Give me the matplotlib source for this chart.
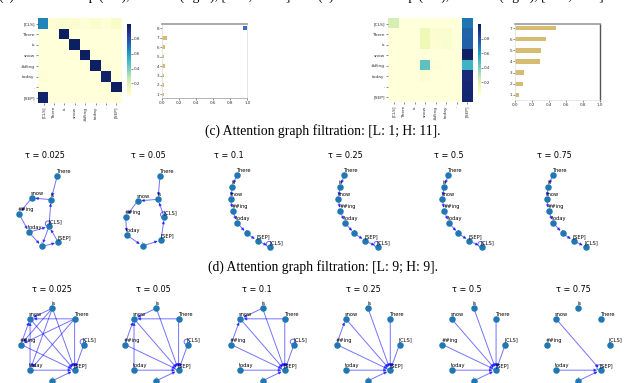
import numpy as np
import matplotlib
matplotlib.use("Agg")
import matplotlib.pyplot as plt
import matplotlib.transforms as mtransforms

# ---------------- data ----------------
tokens = ['[CLS]', 'There', 'is', 'snow', '##ing', 'today', '.', '[SEP]']

# attention map, layer 1 head 11 (rows: query, cols: key)
attn_L1_H11 = np.array([
    [0.66, 0.04, 0.06, 0.05, 0.03, 0.06, 0.03, 0.07],
    [0.01, 0.01, 0.98, 0.00, 0.00, 0.00, 0.00, 0.00],
    [0.01, 0.00, 0.01, 0.98, 0.00, 0.00, 0.00, 0.00],
    [0.01, 0.00, 0.00, 0.01, 0.98, 0.00, 0.00, 0.00],
    [0.01, 0.00, 0.00, 0.00, 0.01, 0.98, 0.00, 0.00],
    [0.03, 0.00, 0.00, 0.00, 0.00, 0.01, 0.96, 0.00],
    [0.01, 0.00, 0.00, 0.00, 0.00, 0.00, 0.01, 0.98],
    [0.96, 0.00, 0.00, 0.00, 0.00, 0.00, 0.00, 0.02],
])
# attention map, layer 9 head 9
attn_L9_H9 = np.array([
    [0.22, 0.01, 0.01, 0.02, 0.01, 0.01, 0.01, 0.70],
    [0.01, 0.01, 0.01, 0.13, 0.05, 0.06, 0.01, 0.74],
    [0.01, 0.01, 0.01, 0.13, 0.04, 0.06, 0.01, 0.75],
    [0.00, 0.00, 0.00, 0.02, 0.01, 0.01, 0.00, 0.97],
    [0.00, 0.00, 0.00, 0.45, 0.03, 0.01, 0.00, 0.52],
    [0.01, 0.00, 0.00, 0.05, 0.01, 0.01, 0.00, 0.93],
    [0.01, 0.00, 0.00, 0.01, 0.02, 0.02, 0.00, 0.94],
    [0.01, 0.00, 0.00, 0.01, 0.01, 0.01, 0.00, 0.95],
])
cbar_ticks = [0.2, 0.4, 0.6, 0.8]

# persistence barcodes
bar1_rank = [1, 2, 3, 4, 5, 6, 7, 8]
bar1_birth = [0, 0, 0, 0, 0, 0, 0, 0.95]
bar1_death = [0.02, 0.02, 0.02, 0.03, 0.02, 0.03, 0.06, 1.0]
bar1_dim = [0, 0, 0, 0, 0, 0, 0, 1]
bar2_rank = [1, 2, 3, 4, 5, 6, 7]
bar2_birth = [0, 0, 0, 0, 0, 0, 0]
bar2_death = [0.05, 0.098, 0.105, 0.29, 0.30, 0.36, 0.48]
bar_xticks = [0.0, 0.2, 0.4, 0.6, 0.8, 1.0]

taus = [0.025, 0.05, 0.1, 0.25, 0.5, 0.75]

# node layouts for L1 H11 graphs (spring-like layouts, token order)
layoutB_x = [0.288, 0.518, 0.343, -0.193, -0.546, -0.268, 0.085, 0.546]
layoutB_y = [-0.426, 0.982, 0.315, 0.363, -0.074, -0.593, -0.982, -0.871]
layoutC_x = [0.536, 0.417, 0.361, -0.203, -0.536, -0.508, -0.064, 0.444]
layoutC_y = [-0.175, 0.972, 0.325, 0.278, -0.158, -0.667, -0.972, -0.806]
layoutA_x = [0.546, -0.379, -0.501, -0.546, -0.490, -0.363, -0.101, 0.204]
layoutA_y = [-0.996, 0.996, 0.671, 0.329, -0.004, -0.329, -0.624, -0.829]
row1_layouts = [(layoutB_x, layoutB_y), (layoutC_x, layoutC_y)] + [(layoutA_x, layoutA_y)] * 4

chain = [('There', 'is'), ('is', 'snow'), ('snow', '##ing'), ('##ing', 'today'),
         ('today', '.'), ('.', '[SEP]'), ('[SEP]', '[CLS]')]
row1_edges = [
    chain + [('[CLS]', 'is'), ('[CLS]', '.'), ('today', '[CLS]'), ('[CLS]', '[CLS]')],
    chain + [('[CLS]', 'is'), ('[CLS]', '[CLS]')],
    chain + [('[CLS]', '[CLS]')],
    chain + [('[CLS]', '[CLS]')],
    chain + [('[CLS]', '[CLS]')],
    chain,
]
to_sep = [('is', '[SEP]'), ('There', '[SEP]'), ('snow', '[SEP]'), ('##ing', '[SEP]'),
          ('today', '[SEP]'), ('.', '[SEP]'), ('[CLS]', '[SEP]'), ('[SEP]', '[SEP]')]
row2_edges = [
    to_sep + [('is', 'snow'), ('is', '##ing'), ('is', 'today'), ('There', 'snow'),
              ('There', '##ing'), ('There', 'today'), ('##ing', 'snow'), ('today', 'snow'),
              ('[CLS]', '[CLS]')],
    to_sep + [('is', 'snow'), ('There', 'snow'), ('##ing', 'snow'), ('today', 'snow'),
              ('[CLS]', '[CLS]')],
    to_sep + [('is', 'snow'), ('There', 'snow'), ('##ing', 'snow'), ('[CLS]', '[CLS]')],
    to_sep + [('##ing', 'snow')],
    to_sep,
    [('snow', '[SEP]'), ('today', '[SEP]'), ('.', '[SEP]'), ('[SEP]', '[SEP]')],
]

# ---------------- figure ----------------
W_PX, H_PX = 640, 383
fig = plt.figure(figsize=(6.4, 3.83), dpi=100)
SERIF = ['Liberation Serif', 'DejaVu Serif']
CAP_FS = 9.8


def px_axes(x0, y0, x1, y1):
    return fig.add_axes([x0 / W_PX, 1 - y1 / H_PX, (x1 - x0) / W_PX, (y1 - y0) / H_PX])


# top captions (their upper part lies above the cropped figure, as in the reference)
fig.text(146 / W_PX, 1 + 0.4 / H_PX, '(a) Attention map (left), barcode (right), [L: 1; H: 11].',
         ha='center', va='baseline', fontsize=CAP_FS, family=SERIF)
fig.text(462 / W_PX, 1 + 0.4 / H_PX, '(b) Attention map (left), barcode (right), [L: 9; H: 9].',
         ha='center', va='baseline', fontsize=CAP_FS, family=SERIF)


def heatmap(box, cbox, mat):
    ax = px_axes(*box)
    im = ax.imshow(mat, cmap='YlGnBu', vmin=0.02, vmax=1.0, aspect='auto', interpolation='nearest')
    ax.set_xticks(range(len(tokens)))
    ax.set_yticks(range(len(tokens)))
    ax.set_xticklabels(tokens, rotation=90, fontsize=3.2)
    ax.set_yticklabels(tokens, fontsize=3.2)
    ax.tick_params(length=1.5, width=0.4, pad=1, colors='#333333')
    for s in ax.spines.values():
        s.set_visible(False)
    cax = px_axes(*cbox)
    cb = fig.colorbar(im, cax=cax, ticks=cbar_ticks)
    cb.outline.set_visible(False)
    cax.tick_params(labelsize=3, length=1.2, width=0.4, pad=1, colors='#333333')
    return ax


def barcode(box, rank, birth, death, dims, ylim):
    ax = px_axes(*box)
    colors = ['#d6bc72' if d == 0 else '#3f6cc2' for d in dims]
    ax.barh(rank, np.array(death) - np.array(birth), left=birth, height=0.4, color=colors)
    ax.set_xlim(0, 1.0)
    ax.set_ylim(*ylim)
    ax.set_yticks(rank)
    ax.set_xticks(bar_xticks)
    ax.tick_params(labelsize=3, length=1.2, width=0.4, pad=1, colors='#333333')
    for s in ['left', 'bottom']:
        ax.spines[s].set_color('#dddddd')
        ax.spines[s].set_linewidth(0.5)
    ax.spines['top'].set_color('#999999')
    ax.spines['top'].set_linewidth(1.2)
    ax.spines['right'].set_color('#dddddd')
    ax.spines['right'].set_linewidth(0.5)
    return ax


heatmap((38.3, 18.3, 121.7, 103.3), (127.3, 24, 130.7, 96.7), attn_L1_H11)
b1 = barcode((162.3, 24.3, 247.3, 97.7), bar1_rank, bar1_birth, bar1_death, bar1_dim, (0.65, 8.42))
b1.spines['bottom'].set_color('#999999')
heatmap((388.3, 18.3, 472.7, 102.3), (477.7, 24.3, 481, 95), attn_L9_H9)
b2 = barcode((515, 24, 600, 100), bar2_rank, bar2_birth, bar2_death, [0] * 7, (0.55, 7.36))
b2.spines['right'].set_color('#555555')
b2.spines['right'].set_linewidth(1.0)

# captions
fig.text(322.5 / W_PX, 1 - 131 / H_PX, '(c) Attention graph filtration: [L: 1; H: 11].',
         ha='center', va='center', fontsize=CAP_FS, family=SERIF)
fig.text(322.5 / W_PX, 1 - 266.7 / H_PX, '(d) Attention graph filtration: [L: 9; H: 9].',
         ha='center', va='center', fontsize=CAP_FS, family=SERIF)

NODE = '#1f77b4'
EDGE = '#0000ff'


def graph_panel(cx, cy, sx, sy, xl, yl, title_x, title_y, xs, ys, edges, tau):
    ax = px_axes(cx - xl * sx, cy - yl * sy, cx + xl * sx, cy + yl * sy)
    ax.set_xlim(-xl, xl)
    ax.set_ylim(-yl, yl)
    ax.axis('off')
    ax.patch.set_alpha(0)
    idx = {t: i for i, t in enumerate(tokens)}
    for s, d in edges:
        i, j = idx[s], idx[d]
        if i == j:
            t = np.linspace(0, 2 * np.pi, 40)
            r = 0.027
            tr = fig.dpi_scale_trans + mtransforms.ScaledTranslation(xs[i], ys[i], ax.transData)
            ax.plot(r * np.cos(t) - 0.01, r * np.sin(t) + r, transform=tr,
                    color=EDGE, lw=0.7, alpha=0.6, zorder=1, clip_on=False)
        else:
            ax.annotate('', xy=(xs[j], ys[j]), xytext=(xs[i], ys[i]),
                        arrowprops=dict(arrowstyle='-|>', color=EDGE, lw=0.7, alpha=0.55,
                                        mutation_scale=4, shrinkA=0, shrinkB=2.4),
                        annotation_clip=False, zorder=1)
    ax.scatter(xs, ys, s=22, color=NODE, linewidths=0, zorder=3, clip_on=False)
    for k, tok in enumerate(tokens):
        ax.annotate(tok, (xs[k], ys[k]), xytext=(-0.7, 1.4), textcoords='offset points',
                    fontsize=3.7, ha='left', va='bottom', zorder=4, annotation_clip=False)
    H = 2 * yl * sy
    W = 2 * xl * sx
    ax.set_title(f'τ = {tau}', fontsize=5.9, x=0.5 + (title_x - cx) / W,
                 y=1 + (cy - yl * sy - title_y) / H, pad=0, va='center')


# row 1: L1 H11
row1_cx = [38.65, 145, 250.35, 358, 462, 566.3]
row1_tx = [45, 148.3, 229, 345.7, 449, 554]
for k in range(6):
    lx, ly = row1_layouts[k]
    graph_panel(row1_cx[k], 211, 36, 36, 1.4, 1.25, row1_tx[k], 156, lx, ly, row1_edges[k], taus[k])

# row 2: L9 H9, circular layout
ang = 2 * np.pi * np.arange(len(tokens)) / len(tokens)
circ_x = np.cos(ang)
circ_y = np.sin(ang)
row2_cx = [52.35, 156.3, 262.5, 368, 473.8, 578.3]
row2_tx = [52.3, 153.3, 257.3, 363.3, 467.3, 573.3]
for k in range(6):
    graph_panel(row2_cx[k], 344.5, 31.5, 36.3, 1.5, 1.25, row2_tx[k], 290, circ_x, circ_y,
                row2_edges[k], taus[k])

fig.savefig('out.png', dpi=100)
